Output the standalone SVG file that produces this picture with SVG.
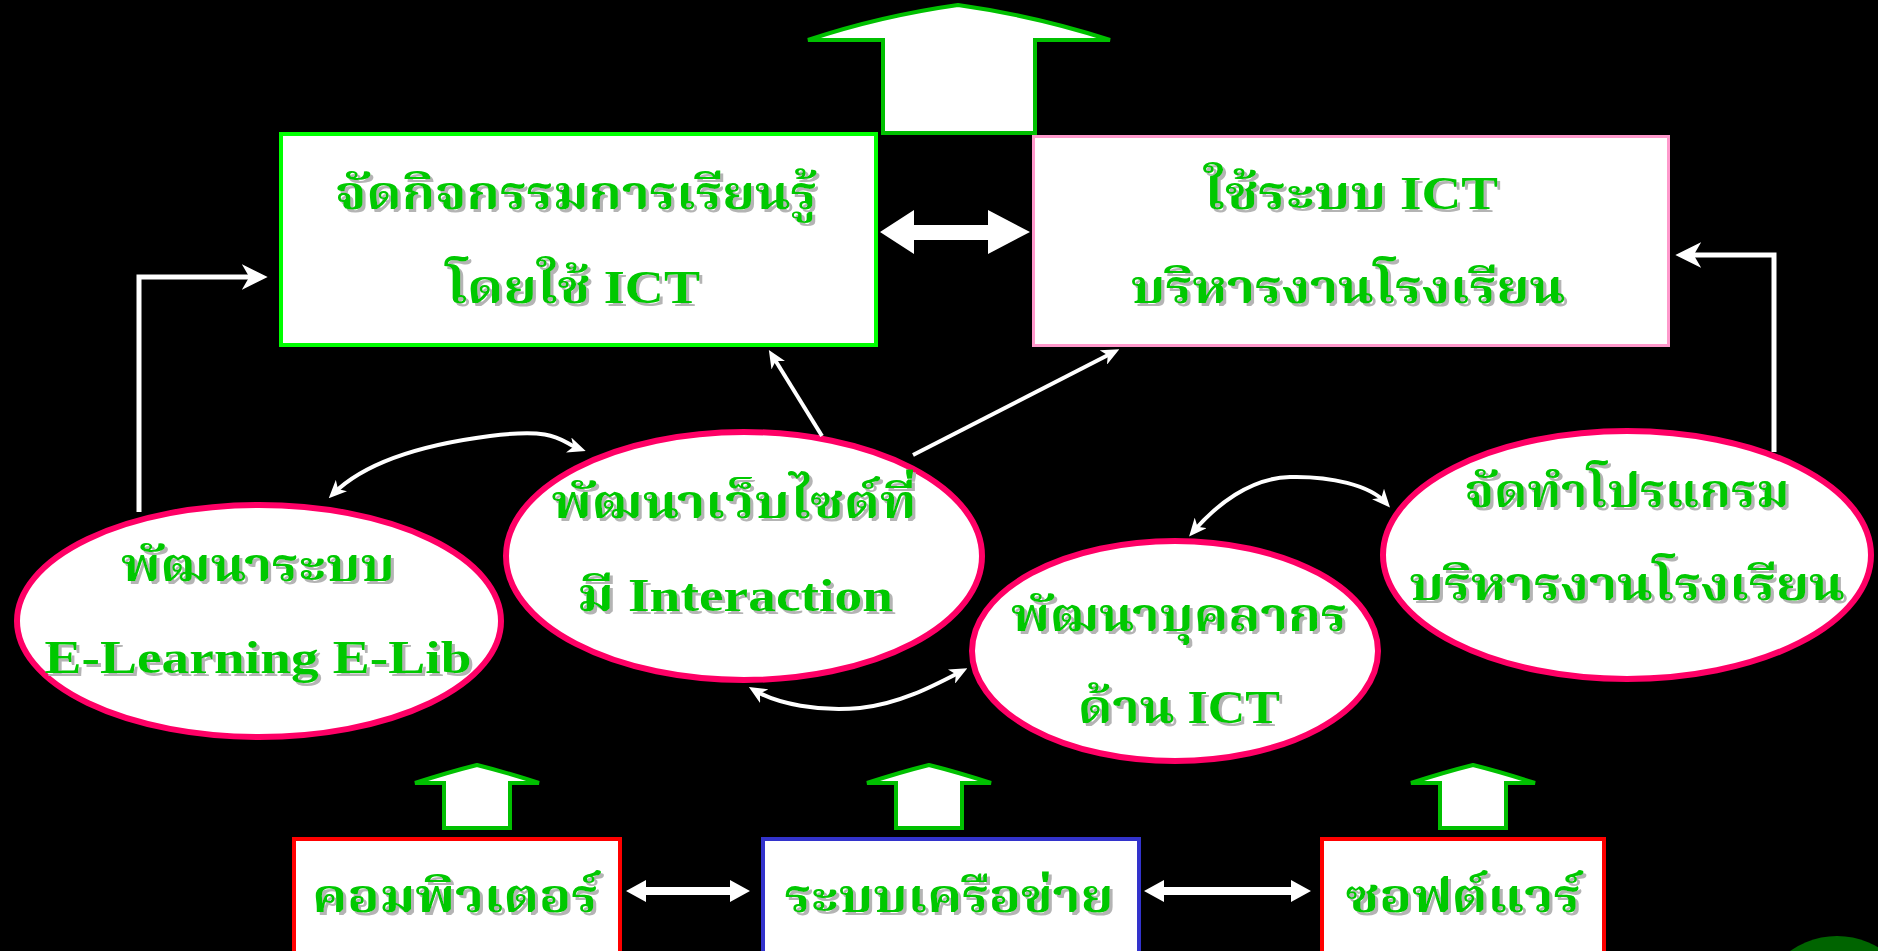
<svg xmlns="http://www.w3.org/2000/svg" width="1878" height="951" viewBox="0 0 1878 951">
<style>
.bg{fill:#000}
.t{font-family:"Liberation Serif","Noto Serif Thai","Noto Sans Thai","Noto Sans","DejaVu Sans",serif;font-weight:bold;font-size:46px;fill:#00c800;text-anchor:middle;filter:url(#sh)}
.ell{fill:#fff;stroke:#ff0066;stroke-width:6}
.up{fill:#fff;stroke:#00c000;stroke-width:4;stroke-linejoin:miter}
.ln{fill:none;stroke:#fff;stroke-width:5}
.cv{fill:none;stroke:#fff;stroke-width:4}
.blk{fill:#fff}
</style>
<defs>
<filter id="sh" x="-5%" y="-20%" width="110%" height="140%">
<feDropShadow dx="3" dy="3" stdDeviation="0.6" flood-color="#b4b4b4" flood-opacity="1"/>
</filter>
<marker id="ahBig" markerUnits="userSpaceOnUse" markerWidth="26" markerHeight="26" viewBox="0 0 24 24" refX="16" refY="12" orient="auto-start-reverse">
<path d="M0,0 L24,12 L0,24 L7,12 Z" fill="#fff"/>
</marker>
<marker id="ahSm" markerUnits="userSpaceOnUse" markerWidth="18" markerHeight="16" viewBox="0 0 18 16" refX="12" refY="8" orient="auto-start-reverse">
<path d="M0,0 L18,8 L0,16 L5,8 Z" fill="#fff"/>
</marker>
<path id="upSmall" d="M-62 18 Q-28 7 0 0 Q28 7 62 18 L33 18 L33 63 L-33 63 L-33 18 Z"/>
</defs>
<rect class="bg" x="0" y="0" width="1878" height="951"/>

<g id="top-arrow">
<path class="up" d="M808 40 Q880 16 958 5 Q1036 16 1110 40 L1035 40 L1035 133 L883 133 L883 40 Z"/>
</g>

<g id="box-learning">
<rect x="281" y="134" width="595" height="211" fill="#fff" stroke="#00ff00" stroke-width="4"/>
<text class="t" x="576" y="209" textLength="482" lengthAdjust="spacingAndGlyphs">จัดกิจกรรมการเรียนรู้</text>
<text class="t" x="573" y="303" textLength="254" lengthAdjust="spacingAndGlyphs">โดยใช้ ICT</text>
</g>

<g id="box-admin">
<rect x="1033.5" y="136.5" width="635" height="209" fill="#fff" stroke="#ff99cc" stroke-width="3"/>
<text class="t" x="1351" y="209" textLength="294" lengthAdjust="spacingAndGlyphs">ใช้ระบบ ICT</text>
<text class="t" x="1348" y="303" textLength="435" lengthAdjust="spacingAndGlyphs">บริหารงานโรงเรียน</text>
</g>

<g id="ell-elearning">
<ellipse class="ell" cx="259" cy="621" rx="242" ry="116"/>
<text class="t" x="258" y="581" textLength="274" lengthAdjust="spacingAndGlyphs">พัฒนาระบบ</text>
<text class="t" x="258" y="673" textLength="427" lengthAdjust="spacingAndGlyphs">E-Learning E-Lib</text>
</g>

<g id="ell-website">
<ellipse class="ell" cx="744" cy="556" rx="238" ry="124"/>
<text class="t" x="734" y="518" textLength="365" lengthAdjust="spacingAndGlyphs">พัฒนาเว็บไซต์ที่</text>
<text class="t" x="735" y="611" textLength="316" lengthAdjust="spacingAndGlyphs">มี Interaction</text>
</g>

<g id="ell-personnel">
<ellipse class="ell" cx="1175" cy="651" rx="203" ry="110"/>
<text class="t" x="1179" y="631" textLength="336" lengthAdjust="spacingAndGlyphs">พัฒนาบุคลากร</text>
<text class="t" x="1179" y="723" textLength="202" lengthAdjust="spacingAndGlyphs">ด้าน ICT</text>
</g>

<g id="ell-program">
<ellipse class="ell" cx="1627" cy="555" rx="244" ry="124"/>
<text class="t" x="1627" y="507" textLength="325" lengthAdjust="spacingAndGlyphs">จัดทำโปรแกรม</text>
<text class="t" x="1627" y="600" textLength="436" lengthAdjust="spacingAndGlyphs">บริหารงานโรงเรียน</text>
</g>

<g id="up-arrows">
<use href="#upSmall" class="up" x="477" y="765"/>
<use href="#upSmall" class="up" x="929" y="765"/>
<use href="#upSmall" class="up" x="1473" y="765"/>
</g>

<g id="box-computer">
<rect x="294" y="839" width="326" height="150" fill="#fff" stroke="#ff0000" stroke-width="4"/>
<text class="t" x="455" y="912" textLength="286" lengthAdjust="spacingAndGlyphs">คอมพิวเตอร์</text>
</g>

<g id="box-network">
<rect x="763" y="839" width="376" height="150" fill="#fff" stroke="#3333cc" stroke-width="4"/>
<text class="t" x="949" y="912" textLength="329" lengthAdjust="spacingAndGlyphs">ระบบเครือข่าย</text>
</g>

<g id="box-software">
<rect x="1322" y="839" width="282" height="150" fill="#fff" stroke="#ff0000" stroke-width="4"/>
<text class="t" x="1463" y="912" textLength="235" lengthAdjust="spacingAndGlyphs">ซอฟต์แวร์</text>
</g>

<g id="corner-button">
<circle cx="1837" cy="1017" r="81" fill="#006400"/>
</g>

<g id="connectors">
<polygon class="blk" points="880,232 914,210 914,225 988,225 988,210 1030,232 988,254 988,240 914,240 914,254"/>
<polygon class="blk" points="626,891 646,880 646,887 730,887 730,880 750,891 730,902 730,895 646,895 646,902"/>
<polygon class="blk" points="1144,891 1164,880 1164,887 1291,887 1291,880 1311,891 1291,902 1291,895 1164,895 1164,902"/>
<path class="ln" d="M139 512 V277 H259" marker-end="url(#ahBig)"/>
<path class="ln" d="M1774 452 V255 H1684" marker-end="url(#ahBig)"/>
<path class="cv" d="M822 436 L772 355" marker-end="url(#ahSm)"/>
<path class="cv" d="M913 455 L1114 352" marker-end="url(#ahSm)"/>
<path class="cv" d="M333 494 C365 462 420 445 490 436 S560 442 580 449" marker-start="url(#ahSm)" marker-end="url(#ahSm)"/>
<path class="cv" d="M754 690 C777 704 820 712 860 708 S935 685 962 671" marker-start="url(#ahSm)" marker-end="url(#ahSm)"/>
<path class="cv" d="M1193 532 C1216 505 1250 478 1290 477 S1370 485 1386 503" marker-start="url(#ahSm)" marker-end="url(#ahSm)"/>
</g>
</svg>
